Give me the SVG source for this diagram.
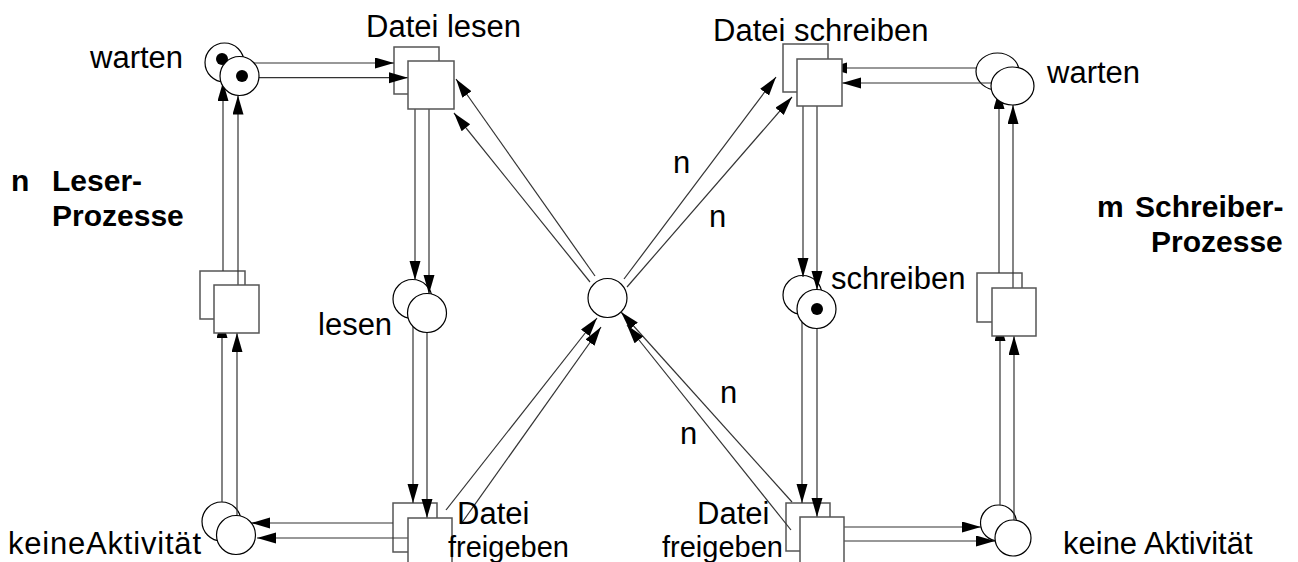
<svg xmlns="http://www.w3.org/2000/svg" width="1298" height="562" viewBox="0 0 1298 562">
<defs>
<marker id="ah" markerUnits="userSpaceOnUse" markerWidth="20" markerHeight="12" refX="19" refY="5.5" orient="auto"><path d="M0,0 L19,5.5 L0,11 Z" fill="#000"/></marker>
</defs>
<style>
.pl{fill:#fff;stroke:#000;stroke-width:1.2}
.tr{fill:#fff;stroke:#555;stroke-width:1.5}
.tok{fill:#000}
.c{fill:none;stroke:#333;stroke-width:1.2;marker-end:url(#ah)}
text{font-family:"Liberation Sans",Arial,sans-serif;font-size:31px;fill:#000}
.b{font-weight:bold;font-size:30px}
.s{font-size:29px}
</style>
<rect width="1298" height="562" fill="#fff"/>

<g id="back-layer">
<g id="warten-l-back"><circle class="pl" cx="224.5" cy="62.5" r="19.5"/><circle class="tok" cx="222" cy="59" r="6"/></g>
<g id="datei-lesen-back"><rect class="tr" x="394" y="47" width="45" height="47"/></g>
<g id="lesen-back"><circle class="pl" cx="412.5" cy="299" r="19.5"/></g>
<g id="freigeben-l-back"><rect class="tr" x="393" y="503" width="44" height="49"/></g>
<g id="keine-l-back"><circle class="pl" cx="221.5" cy="521.5" r="19.5"/></g>
<g id="trans-l-back"><rect class="tr" x="200" y="271" width="45" height="48"/></g>
<g id="mutex"><circle class="pl" cx="607.5" cy="298" r="19.5"/></g>
<g id="datei-schreiben-back"><rect class="tr" x="783" y="44" width="45" height="48"/></g>
<g id="schreiben-back"><circle class="pl" cx="802.5" cy="295" r="19.5"/></g>
<g id="freigeben-r-back"><rect class="tr" x="786" y="503" width="44" height="48"/></g>
<g id="keine-r-back"><circle class="pl" cx="998.5" cy="523" r="18"/></g>
<g id="trans-r-back"><rect class="tr" x="977" y="273" width="45" height="49"/></g>
<g id="warten-r-back"><ellipse class="pl" cx="997.5" cy="71.5" rx="21.5" ry="18.5"/></g>
</g>

<g id="connectors">
<path class="c" d="M244,63 H394"/>
<path class="c" d="M259,77.7 H408"/>
<path class="c" d="M415,94 V280"/>
<path class="c" d="M429,109 V294"/>
<path class="c" d="M413,318 V503"/>
<path class="c" d="M427,332 V518"/>
<path class="c" d="M393,523 H251"/>
<path class="c" d="M408,538 H257"/>
<path class="c" d="M222,502 V319"/>
<path class="c" d="M237,516 V333"/>
<path class="c" d="M223,271 V82"/>
<path class="c" d="M238,285 V95.5"/>
<path class="c" d="M595,276 L456,79"/>
<path class="c" d="M590,282 L454,113"/>
<path class="c" d="M624,279 L776,77"/>
<path class="c" d="M627,287 L792,97"/>
<path class="c" d="M446,510 L597,318"/>
<path class="c" d="M461,524 L601,327"/>
<path class="c" d="M792,502 L621,312"/>
<path class="c" d="M791,530 L627,325"/>
<path class="c" d="M803,92 V277"/>
<path class="c" d="M817,106 V290"/>
<path class="c" d="M802,314 V503"/>
<path class="c" d="M817,328 V517"/>
<path class="c" d="M830,527 H981"/>
<path class="c" d="M844,541 H995"/>
<path class="c" d="M1000,505 V322"/>
<path class="c" d="M1014,520 V336"/>
<path class="c" d="M999,273 V90"/>
<path class="c" d="M1013,288 V105"/>
<path class="c" d="M976,68 H828"/>
<path class="c" d="M991,83 H842"/>
</g>

<g id="front-layer">
<g id="warten-l-front"><circle class="pl" cx="239.5" cy="76" r="19.5"/><circle class="tok" cx="242" cy="76" r="6"/></g>
<g id="datei-lesen-front"><rect class="tr" x="408" y="61" width="46" height="48"/></g>
<g id="lesen-front"><circle class="pl" cx="427" cy="313" r="19.5"/></g>
<g id="freigeben-l-front"><rect class="tr" x="408" y="518" width="44" height="49"/></g>
<g id="keine-l-front"><circle class="pl" cx="236" cy="535" r="19.5"/></g>
<g id="trans-l-front"><rect class="tr" x="214" y="285" width="45" height="48"/></g>
<g id="datei-schreiben-front"><rect class="tr" x="797" y="59" width="45" height="47"/></g>
<g id="schreiben-front"><circle class="pl" cx="816.5" cy="309" r="19.5"/><circle class="tok" cx="817" cy="309" r="6"/></g>
<g id="freigeben-r-front"><rect class="tr" x="800" y="517" width="44" height="49"/></g>
<g id="keine-r-front"><circle class="pl" cx="1013" cy="538" r="18"/></g>
<g id="trans-r-front"><rect class="tr" x="992" y="288" width="44" height="48"/></g>
<g id="warten-r-front"><ellipse class="pl" cx="1012.5" cy="86" rx="21.5" ry="19"/></g>
</g>

<g id="labels">
<text x="90" y="68">warten</text>
<text x="366" y="37">Datei lesen</text>
<text x="713" y="41">Datei schreiben</text>
<text x="1047" y="83">warten</text>
<text class="b" x="11" y="191">n</text>
<text class="b" x="52" y="191">Leser-</text>
<text class="b" x="52" y="226">Prozesse</text>
<text class="b" x="1097" y="217">m</text>
<text class="b" x="1135" y="217">Schreiber-</text>
<text class="b" x="1151" y="252">Prozesse</text>
<text x="318" y="335">lesen</text>
<text x="831" y="289">schreiben</text>
<text x="673" y="173">n</text>
<text x="709" y="227">n</text>
<text x="720" y="403">n</text>
<text x="680" y="444">n</text>
<text x="8" y="554" textLength="193" lengthAdjust="spacing">keineAktivität</text>
<text x="457" y="524">Datei</text>
<text class="s" x="448" y="557">freigeben</text>
<text x="697" y="524">Datei</text>
<text class="s" x="662" y="557">freigeben</text>
<text x="1063" y="554">keine Aktivität</text>
</g>
</svg>
